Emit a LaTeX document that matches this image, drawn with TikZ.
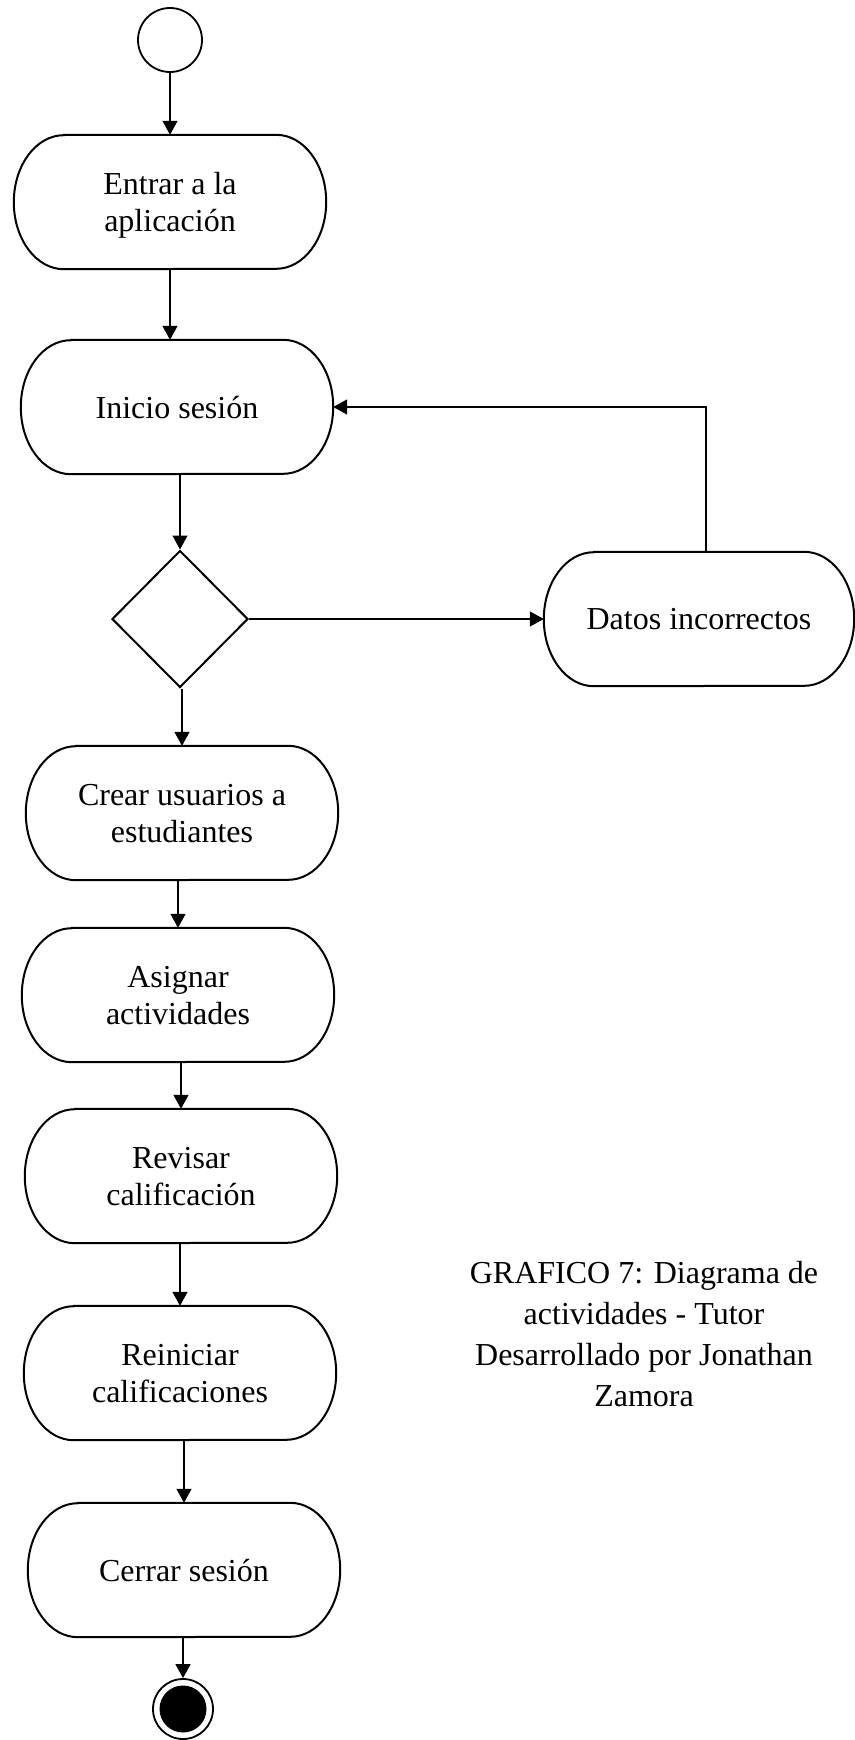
\documentclass[tikz,border=0pt]{standalone}
\usepackage{fontspec}
\setmainfont{Liberation Serif}
\usetikzlibrary{shapes.geometric,arrows.meta}
\begin{document}
\begin{tikzpicture}[x=1pt,y=1pt,
  boxline/.style={line width=2pt},
  actbox/.style={rectangle, draw=none, minimum width=312pt, minimum height=134pt,
    inner sep=0pt, text depth=0pt, align=center, font=\fontsize{32}{37}\selectfont},
  flow/.style={line width=1.3pt, -{Triangle[length=14pt,width=15pt]}}]
\useasboundingbox (0,0) rectangle (854,-1740);

% initial and final states
\node (start) [circle, draw, line width=1.8pt, minimum size=64pt, inner sep=0pt] at (170,-40) {};
\node (endring) [circle, draw, line width=1.8pt, minimum size=60pt, inner sep=0pt] at (183,-1709) {};
\node (enddot) [circle, fill=black, minimum size=47pt, inner sep=0pt] at (endring.center) {};

% activities
\node (entrar)    [actbox] at (170,-202)  {Entrar a la\\aplicación};
\node (inicio)    [actbox] at (177,-407)  {Inicio sesión};
\node (datos)     [actbox, minimum width=310pt] at (699,-619) {Datos incorrectos};
\node (crear)     [actbox] at (182,-813)  {Crear usuarios a\\estudiantes};
\node (asignar)   [actbox] at (178,-995)  {Asignar\\actividades};
\node (revisar)   [actbox] at (181,-1176) {Revisar\\calificación};
\node (reiniciar) [actbox] at (180,-1373) {Reiniciar\\calificaciones};
\node (cerrar)    [actbox] at (184,-1570) {Cerrar sesión};

% decision
\node (decision) [diamond, draw, line width=2pt, aspect=1, inner sep=0pt,
  minimum width=136pt, minimum height=137pt] at (180,-619) {};

% rounded outlines of the activities
\foreach \n in {entrar,inicio,datos,crear,asignar,revisar,reiniciar,cerrar}
  \draw[boxline] ([xshift=50pt]\n.north west) -- ([xshift=-50pt]\n.north east)
    arc[start angle=90, end angle=-90, x radius=50pt, y radius=67pt]
    -- ([xshift=50pt]\n.south west)
    arc[start angle=270, end angle=90, x radius=50pt, y radius=67pt] -- cycle;

% caption
\node (caption) [align=center, font=\fontsize{32}{41}\selectfont] at (644,-1334)
  {GRAFICO 7: Diagrama de\\actividades - Tutor\\Desarrollado por Jonathan\\Zamora};

% transitions
\draw[flow] (start.south) -- (start.south |- entrar.north);
\draw[flow] (entrar.south) -- (entrar.south |- inicio.north);
\draw[flow] (inicio.south -| decision.north) -- (decision.north);
\draw[flow] (decision.east) -- (datos.west);
\draw[flow] ([xshift=7pt]datos.north) |- (inicio.east);
\draw[flow] (decision.south -| crear.north) -- (crear.north);
\draw[flow] (crear.south -| asignar.north) -- (asignar.north);
\draw[flow] (asignar.south -| revisar.north) -- (revisar.north);
\draw[flow] (revisar.south -| reiniciar.north) -- (reiniciar.north);
\draw[flow] (reiniciar.south -| cerrar.north) -- (cerrar.north);
\draw[flow] (cerrar.south -| endring.north) -- (endring.north);
\end{tikzpicture}
\end{document}
